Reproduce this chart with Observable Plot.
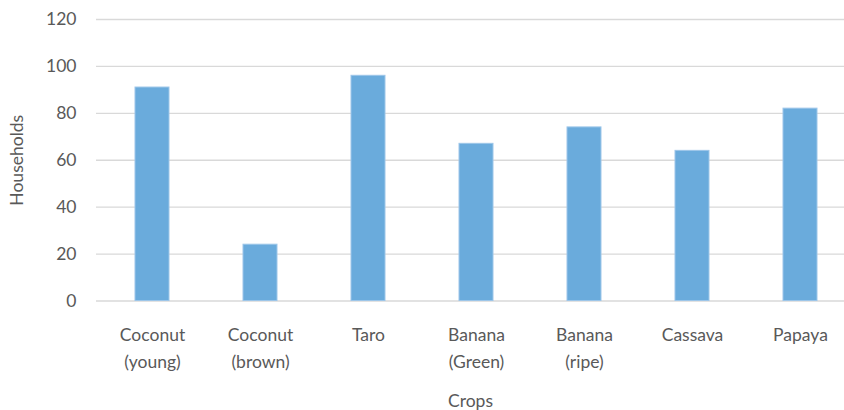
<!DOCTYPE html>
<html>
<head>
<meta charset="utf-8">
<script src="https://cdn.jsdelivr.net/npm/d3@7"></script>
<script src="https://cdn.jsdelivr.net/npm/@observablehq/plot@0.6"></script>
<style>
  html, body { margin: 0; padding: 0; background: #fff; overflow: hidden; }
  svg { display: block; }
</style>
</head>
<body>
<div id="chart"></div>
<script>
const categories = ["Coconut (young)", "Coconut (brown)", "Taro", "Banana (Green)", "Banana (ripe)", "Cassava", "Papaya"];
const households = [91, 24, 96, 67, 74, 64, 82];
const tickLabels = ["Coconut\n(young)", "Coconut\n(brown)", "Taro", "Banana\n(Green)", "Banana\n(ripe)", "Cassava", "Papaya"];
const yTicks = [0, 20, 40, 60, 80, 100, 120];

const data = categories.map((c, i) => ({crop: c, value: households[i]}));

const chart = Plot.plot({
  width: 844,
  height: 410,
  marginTop: 19,
  marginBottom: 109.5,
  marginLeft: 96,
  marginRight: 0,
  style: {fontFamily: "Lato, sans-serif", fontSize: "17.5px", color: "#595959", background: "#fff"},
  x: {type: "band", domain: categories, range: [96, 855], paddingInner: 0.686, paddingOuter: 0.343},
  y: {domain: [0, 120], ticks: yTicks},
  marks: [
    Plot.gridY(yTicks, {stroke: "#d9d9d9", strokeOpacity: 1, strokeWidth: 1.3}),
    Plot.barY(data, {x: "crop", y: "value", fill: "#6aabdc", stroke: "#9dc6e9", strokeWidth: 1}),
    Plot.axisY(yTicks, {tickSize: 0, tickPadding: 20, label: "Households", labelAnchor: "center", labelOffset: 86, labelArrow: "none", fill: "#595959"}),
    Plot.axisX({tickSize: 0, tickPadding: 21, lineHeight: 1.54, tickFormat: (d) => tickLabels[categories.indexOf(d)], label: "Crops", labelAnchor: "center", labelOffset: 106, labelArrow: "none", fill: "#595959"})
  ]
});
document.getElementById("chart").appendChild(chart);
</script>
</body>
</html>
